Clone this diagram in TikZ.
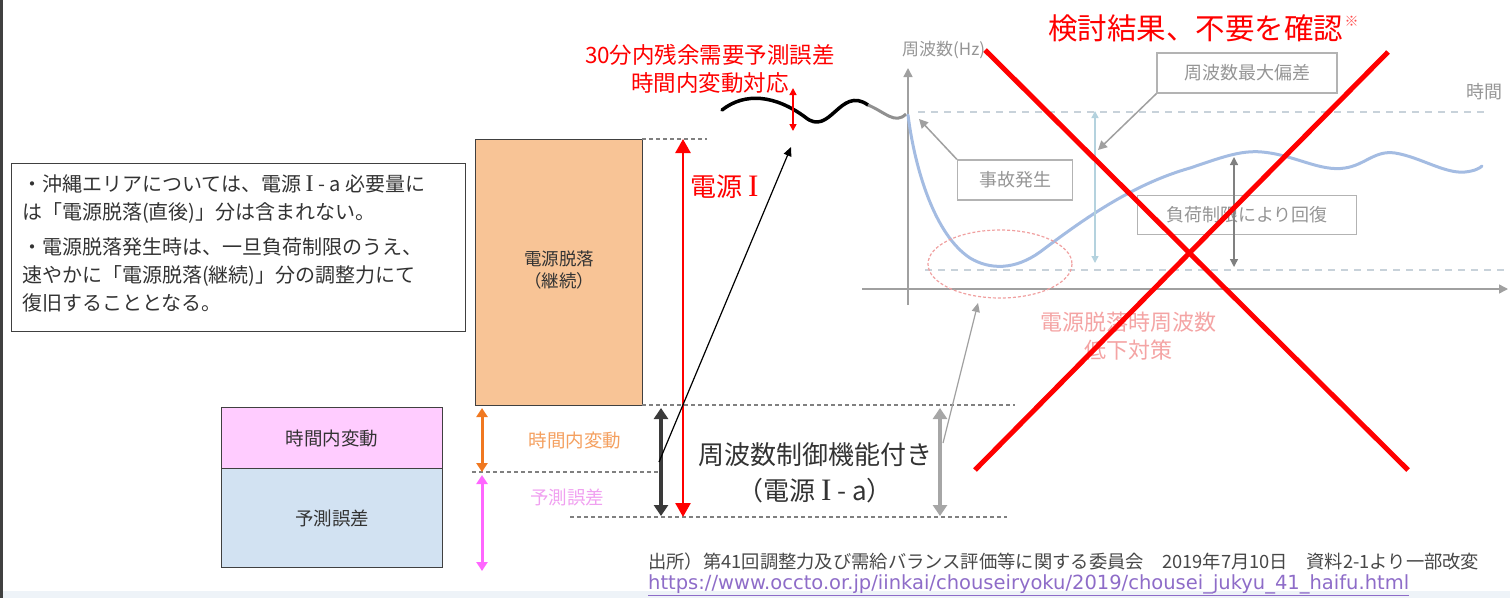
\documentclass[tikz,border=0pt]{standalone}
\usepackage{fontspec}
\setmainfont{Noto Sans CJK JP}
\newfontfamily\romanI[Scale=1.2]{Liberation Serif}
\newfontfamily\urlfont{DejaVu Sans}
\usetikzlibrary{arrows.meta}
\definecolor{txt}{HTML}{333333}
\definecolor{boxline}{HTML}{404040}
\definecolor{lossfill}{HTML}{F8C496}
\definecolor{pinkfill}{HTML}{FFCCFF}
\definecolor{bluefill}{HTML}{D2E2F2}
\definecolor{orarr}{HTML}{F07820}
\definecolor{magarr}{HTML}{FF66FF}
\definecolor{ortxt}{HTML}{F4A060}
\definecolor{pktxt}{HTML}{F0A0F0}
\definecolor{dkarr}{HTML}{3A3A3A}
\definecolor{gyarr}{HTML}{A6A6A6}
\definecolor{redc}{HTML}{FF0000}
\definecolor{graphgray}{HTML}{A0A0A0}
\definecolor{graphtxt}{HTML}{959595}
\definecolor{dashc}{HTML}{C8D2DA}
\definecolor{curveblue}{HTML}{A4BCE2}
\definecolor{ltblue}{HTML}{B4D2DE}
\definecolor{ellc}{HTML}{F0A0A0}
\definecolor{pinktxt}{HTML}{F4A4A4}
\definecolor{urlc}{HTML}{8E6CC8}
\definecolor{stripc}{HTML}{EEF3F8}
\newcommand\fsz[2]{\fontsize{#1}{#2}\selectfont}
\newcommand\RI{{\romanI I}}
\begin{document}
\begin{tikzpicture}[x=1pt,y=-1pt,
  every node/.style={inner sep=0pt},
  box/.style={draw=boxline, line width=1.3pt, anchor=north west},
  gbox/.style={draw=graphgray!80, line width=1.4pt, text=graphtxt, font=\fsz{18}{22}},
  guide/.style={draw=gray, dashed, dash pattern=on 4pt off 3pt, line width=1.2pt},
  gdash/.style={draw=dashc, dash pattern=on 7pt off 6pt, line width=1.5pt},
]
\useasboundingbox (0,0) rectangle (1510,598);
\fill[stripc] (0,591) rectangle (1510,598);
\draw[line width=3pt, draw=boxline] (1.5,0) -- (1.5,598);

% ---------- note box ----------
\node[box, minimum width=454pt, minimum height=168pt] (note) at (11,163) {};
\node[anchor=north west, align=left, text=txt, font=\fsz{20}{28}] (notetext) at (22,174)
 {・沖縄エリアについては、電源 \RI\ - a 必要量に\\
  は「電源脱落(直後)」分は含まれない。\\[7pt]
  ・電源脱落発生時は、一旦負荷制限のうえ、\\
  速やかに「電源脱落(継続)」分の調整力にて\\
  復旧することとなる。};

% ---------- boxes ----------
\node[box, fill=lossfill, minimum width=167pt, minimum height=266pt] (loss) at (475,139) {};
\node[align=center, text=txt, font=\fsz{17.5}{22}] (losstext) at ([yshift=3]loss.center) {電源脱落\\（継続）};
\node[box, fill=pinkfill, minimum width=221pt, minimum height=61pt] (fluct) at (221,407) {};
\node[text=txt, font=\fsz{18.5}{22}] (flucttext) at (fluct.center) {時間内変動};
\node[box, fill=bluefill, minimum width=221pt, minimum height=99pt] (err) at (221,468) {};
\node[text=txt, font=\fsz{18.5}{22}] (errtext) at (err.center) {予測誤差};

% ---------- guide lines ----------
\coordinate (g1a) at (642,139); \coordinate (g1b) at (707,139);
\coordinate (g2a) at (642,405); \coordinate (g2b) at (1015,405);
\coordinate (g3a) at (472,472); \coordinate (g3b) at (660,472);
\coordinate (g4a) at (570,517); \coordinate (g4b) at (1007,517);
\draw[guide] (g1a) -- (g1b);
\draw[guide] (g2a) -- (g2b);
\draw[guide] (g3a) -- (g3b);
\draw[guide] (g4a) -- (g4b);

% ---------- dimension arrows ----------
\coordinate (oa) at (482,408); \coordinate (ob) at (482,472);
\draw[orarr, line width=3pt, {Triangle[width=11pt,length=9pt]}-{Triangle[width=11pt,length=9pt]}] (oa) -- (ob);
\coordinate (ma) at (482,475); \coordinate (mb) at (482,571);
\draw[magarr, line width=3pt, {Triangle[width=11pt,length=9pt]}-{Triangle[width=11pt,length=9pt]}] (ma) -- (mb);
\node[text=ortxt, font=\fsz{18.5}{22}] (fltlabel) at (575,440) {時間内変動};
\node[text=pktxt, font=\fsz{18.5}{22}] (errlabel) at (567,497) {予測誤差};

\coordinate (da) at (661,408); \coordinate (db) at (661,516);
\draw[dkarr, line width=4pt, {Triangle[width=14pt,length=11pt]}-{Triangle[width=14pt,length=11pt]}] (da) -- (db);
\coordinate (ra) at (683,139); \coordinate (rb) at (683,517);
\draw[redc, line width=2.6pt, {Triangle[width=15pt,length=14pt]}-{Triangle[width=15pt,length=14pt]}] (ra) -- (rb);
\node[text=redc, font=\fsz{26}{30}, anchor=west] (src1) at (690,187) {電源 \RI};

\coordinate (ga) at (940,408); \coordinate (gb) at (940,516);
\draw[gyarr, line width=4pt, {Triangle[width=14pt,length=11pt]}-{Triangle[width=14pt,length=11pt]}] (ga) -- (gb);
\node[align=center, text=txt, font=\fsz{26}{36}] (fcf) at (815,473) {周波数制御機能付き\\（電源 \RI\ - a）};

% pointer arrows
\coordinate (pa) at (659,462); \coordinate (pb) at (791,147);
\draw[black, line width=1.2pt, -{Triangle[width=8pt,length=9pt]}] (pa) -- (pb);
\coordinate (qa) at (943,443); \coordinate (qb) at (978,303);
\draw[graphgray, line width=1.2pt, -{Triangle[width=8pt,length=9pt]}] (qa) -- (qb);

% ---------- wavy demand line ----------
\coordinate (w0) at (722,110); \coordinate (w1) at (805,117); \coordinate (w2) at (868,105);
\coordinate (w3) at (906,114);
\draw[black, line width=3.5pt, line cap=round] (w0) .. controls (745,92) and (775,95) .. (w1)
  .. controls (830,138) and (840,85) .. (w2);
\draw[graphgray!90!black, line width=3pt] (w2) .. controls (885,112) and (895,125) .. (w3);
\coordinate (sa) at (793,88); \coordinate (sb) at (793,131);
\draw[redc, line width=1.5pt, {Triangle[width=7pt,length=7pt]}-{Triangle[width=7pt,length=7pt]}] (sa) -- (sb);
\node[align=center, text=redc, font=\fsz{22.5}{28}] (resid) at (710,69) {30分内残余需要予測誤差\\時間内変動対応};

% ---------- frequency graph ----------
\coordinate (ya) at (908,305); \coordinate (yb) at (908,68);
\draw[graphgray, line width=1.5pt, -{Triangle[width=9pt,length=9pt]}] (ya) -- (yb);
\coordinate (xa) at (862,289); \coordinate (xb) at (1508,289);
\draw[graphgray, line width=1.5pt, -{Triangle[width=9pt,length=9pt]}] (xa) -- (xb);
\node[text=graphtxt, font=\fsz{17}{20}, anchor=west] (ylab) at (902,50) {周波数(Hz)};
\node[text=graphtxt, font=\fsz{18}{20}, anchor=west] (xlab) at (1466,92) {時間};
\coordinate (d1a) at (918,112); \coordinate (d1b) at (1490,112);
\draw[gdash] (d1a) -- (d1b);
\coordinate (d2a) at (925,270); \coordinate (d2b) at (1510,270);
\draw[gdash] (d2a) -- (d2b);

\draw[curveblue, line width=3pt, line cap=round]
  (908,115) .. controls (915,170) and (935,235) .. (970,258)
  .. controls (990,270) and (1015,270) .. (1040,252)
  .. controls (1080,222) and (1130,185) .. (1190,168)
  .. controls (1220,158) and (1240,150) .. (1262,152)
  .. controls (1295,155) and (1320,172) .. (1345,168)
  .. controls (1365,165) and (1375,150) .. (1395,153)
  .. controls (1420,157) and (1445,174) .. (1465,172)
  .. controls (1475,171) and (1480,168) .. (1482,166);

\draw[ellc, dashed, dash pattern=on 3pt off 2pt, line width=1.2pt] (1000,264) ellipse [x radius=72, y radius=34];

\node[gbox, minimum width=180pt, minimum height=40pt] (maxdev) at (1247,73) {周波数最大偏差};
\node[gbox, minimum width=115pt, minimum height=40pt] (fault) at (1015,180) {事故発生};
\node[gbox, minimum width=219pt, minimum height=39pt] (recov) at (1247,215) {負荷制限により回復};

\coordinate (fa) at (919,119);
\draw[graphgray, line width=1.5pt, -{Triangle[width=9pt,length=9pt]}] (fault.north west) -- (fa);
\coordinate (mdh) at (1098,150);
\draw[graphgray, line width=1.5pt, -{Triangle[width=9pt,length=9pt]}] (maxdev.south west) -- (mdh);
\coordinate (la) at (1095,111); \coordinate (lb) at (1095,263);
\draw[ltblue, line width=1.3pt, {Triangle[width=7pt,length=7pt]}-{Triangle[width=7pt,length=7pt]}] (la) -- (lb);
\coordinate (ka) at (1234,157); \coordinate (kb) at (1234,267);
\draw[graphgray!80!black, line width=1.3pt, {Triangle[width=8pt,length=8pt]}-{Triangle[width=8pt,length=8pt]}] (ka) -- (kb);

\node[align=center, text=pinktxt, font=\fsz{22}{28}] (lowf) at (1128,336) {電源脱落時周波数\\低下対策};

% ---------- red cross ----------
\coordinate (x1a) at (985,50); \coordinate (x1b) at (1408,470);
\coordinate (x2a) at (1388,52); \coordinate (x2b) at (975,470);
\draw[redc, line width=5pt] (x1a) -- (x1b);
\draw[redc, line width=5pt] (x2a) -- (x2b);
\node[text=redc, font=\fsz{29.5}{32}, anchor=west] (result) at (1048,28) {検討結果、不要を確認};
\node[text=redc!70, font=\fsz{14}{16}, anchor=north west] (note2) at ([xshift=1,yshift=-2]result.north east) {※};

% ---------- source ----------
\node[anchor=west, text=txt!90, font=\fsz{18.3}{20}] (srcline) at (648,562)
  {出所）第41回調整力及び需給バランス評価等に関する委員会　2019年7月10日　資料2-1より一部改変};
\node[anchor=west, text=urlc, font=\urlfont\fsz{19.5}{22}] (url) at (648,585)
  {\underline{https://www.occto.or.jp/iinkai/chouseiryoku/2019/chousei\_jukyu\_41\_haifu.html}};
\end{tikzpicture}
\end{document}
